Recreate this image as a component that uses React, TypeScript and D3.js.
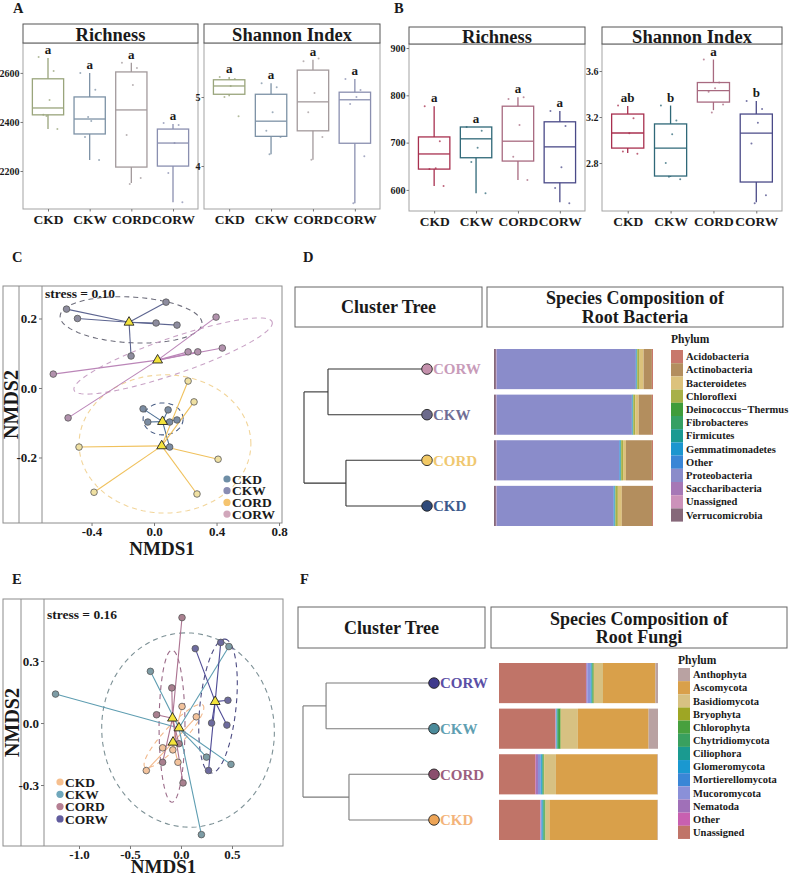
import * as d3 from 'd3';
import { useEffect, useRef } from 'react';

const WIDTH = 794;
const HEIGHT = 878;
const SERIF = '"Liberation Serif", "Times New Roman", serif';

const GROUPS = ['CKD', 'CKW', 'CORD', 'CORW'];
const TREE_ORDER = ['CORW', 'CKW', 'CORD', 'CKD'];

// box summaries, one row per group: [lower whisker, Q1, median, Q3, upper whisker]
const aRichness = [
  [2371, 2429, 2457, 2576, 2661],
  [2245, 2351, 2412, 2502, 2600],
  [2151, 2216, 2449, 2604, 2641],
  [2073, 2220, 2314, 2371, 2392],
];
const aRichnessPts = [
  [2665, 2608, 2490, 2429, 2371, 2424],
  [2600, 2531, 2404, 2339, 2245, 2420],
  [2641, 2620, 2551, 2347, 2171, 2147],
  [2396, 2388, 2314, 2192, 2073],
];
const aShannon = [
  [5.01, 5.04, 5.16, 5.25, 5.29],
  [4.17, 4.43, 4.65, 5.04, 5.2],
  [4.09, 4.51, 4.93, 5.39, 5.54],
  [3.46, 4.33, 4.96, 5.07, 5.26],
];
const aShannonPts = [
  [5.29, 5.26, 5.16, 5.0, 4.72],
  [5.2, 5.14, 4.78, 4.51, 4.42, 4.17],
  [5.52, 5.56, 5.06, 4.78, 4.42, 4.09],
  [5.26, 5.1, 5.0, 4.9, 4.14, 3.46],
];
const bRichness = [
  [608, 644, 676, 712, 777],
  [593, 668, 708, 733, 733],
  [621, 661, 703, 777, 796],
  [574, 615, 691, 744, 767],
];
const bRichnessPts = [
  [777, 703, 646, 644, 608],
  [733, 725, 689, 659, 593],
  [792, 796, 737, 670, 621],
  [767, 735, 648, 604, 572],
];
const bShannon = [
  [2.887, 2.93, 3.061, 3.226, 3.296],
  [2.68, 2.687, 2.93, 3.14, 3.3],
  [3.26, 3.33, 3.43, 3.5, 3.7],
  [2.46, 2.635, 3.06, 3.226, 3.34],
];
const bShannonPts = [
  [3.3, 3.19, 3.06, 2.9, 2.88],
  [3.3, 3.17, 3.05, 2.8, 2.66, 2.68],
  [3.7, 3.5, 3.45, 3.42, 3.31, 3.24],
  [3.34, 3.27, 3.15, 2.97, 2.52, 2.45],
];
const sameLetters = ['a', 'a', 'a', 'a'];
const bShannonLetters = ['ab', 'b', 'a', 'b'];

// NMDS scores (NMDS1, NMDS2), bacteria
const cCKD = [[-0.07, -0.06], [0.09, -0.063], [-0.04, -0.098], [0.147, -0.092], [0.1, -0.098], [0.1, -0.17]];
const cCKW = [[-0.56, 0.227], [-0.49, 0.2], [0.077, 0.247], [0.013, 0.187], [0.147, 0.181], [-0.147, 0.092]];
const cCORD = [[0.218, 0.02], [0.256, -0.04], [-0.48, -0.17], [0.41, -0.205], [-0.384, -0.3], [0.275, -0.305]];
const cCORW = [[0.397, 0.204], [0.218, 0.104], [0.28, 0.104], [0.437, 0.115], [-0.645, 0.04], [-0.55, -0.086]];
// 95% ellipses: centre, then two semi-axes [cx, cy, ax, ay, bx, by]
const cEllipses = [
  [0.058, -0.089, 0.128, 0, 0, 0.046],
  [-0.147, 0.196, 0.454, -0.009, -0.006, 0.066],
  [0.07, -0.161, 0.55, 0, 0, 0.199],
  [0.122, 0.092, 0.634, 0.098, 0.038, -0.049],
];

// NMDS scores, fungi
const eCKD = [[0.01, 0.08], [0.15, 0.03], [-0.18, -0.12], [-0.34, -0.23], [-0.08, -0.13], [-0.03, -0.19]];
const eCKW = [[-1.23, 0.14], [-0.3, 0.25], [0.47, 0.37], [0.49, -0.2], [0.25, -0.165], [0.2, -0.54]];
const eCORD = [[0.01, 0.51], [-0.09, 0.17], [-0.24, 0.04], [-0.18, -0.19], [0.02, -0.29], [-0.02, -0.1]];
const eCORW = [[0.14, 0.36], [0.39, 0.39], [0.46, 0.11], [0.3, 0.0], [0.45, -0.01], [0.27, -0.23]];
const eEllipses = [
  [-0.069, -0.063, 0.284, 0.15, 0.072, -0.033],
  [0.069, -0.034, -0.078, 0.469, 0.843, 0.034],
  [-0.088, -0.015, 0.127, 0, 0, 0.368],
  [0.363, 0.082, 0.069, 0.324, 0.176, -0.01],
];

// cluster heights: root, (CORW,CKW), (CORD,CKD)
const dMerges = [1.0, 0.805, 0.659];
const fMerges = [1.0, 0.824, 0.649];

const bacPhyla = [
  'Acidobacteria', 'Actinobacteria', 'Bacteroidetes', 'Chloroflexi', 'Deinococcus\u2212Thermus',
  'Fibrobacteres', 'Firmicutes', 'Gemmatimonadetes', 'Other', 'Proteobacteria',
  'Saccharibacteria', 'Unassigned', 'Verrucomicrobia',
];
// relative abundance per phylum, rows in TREE_ORDER
const bacCORW = [0.007, 0.052, 0.025, 0.015, 0.001, 0.001, 0.002, 0.002, 0.003, 0.875, 0.003, 0.002, 0.012];
const bacCKW = [0.007, 0.083, 0.022, 0.012, 0.001, 0.001, 0.002, 0.002, 0.003, 0.85, 0.003, 0.002, 0.012];
const bacCORD = [0.007, 0.163, 0.018, 0.012, 0.001, 0.001, 0.003, 0.003, 0.004, 0.77, 0.003, 0.002, 0.012];
const bacCKD = [0.006, 0.19, 0.025, 0.015, 0.001, 0.001, 0.003, 0.003, 0.004, 0.735, 0.003, 0.002, 0.012];

const fungPhyla = [
  'Anthophyta', 'Ascomycota', 'Basidiomycota', 'Bryophyta', 'Chlorophyta', 'Chytridiomycota',
  'Ciliophora', 'Glomeromycota', 'Mortierellomycota', 'Mucoromycota', 'Nematoda', 'Other', 'Unassigned',
];
const fungCORW = [0.016, 0.33, 0.057, 0.002, 0.006, 0.004, 0.003, 0.003, 0.004, 0.02, 0.006, 0.002, 0.547];
const fungCKW = [0.059, 0.445, 0.107, 0.002, 0.01, 0.01, 0.003, 0.002, 0.002, 0.003, 0.001, 0.001, 0.355];
const fungCORD = [0.004, 0.638, 0.074, 0.002, 0.004, 0.004, 0.004, 0.005, 0.004, 0.016, 0.012, 0.004, 0.229];
const fungCKD = [0.003, 0.68, 0.024, 0.002, 0.006, 0.006, 0.004, 0.004, 0.004, 0.004, 0.003, 0.002, 0.258];

// ---- styles ----
const A_COLORS = ['#9aa57c', '#7d92a6', '#a39a9c', '#8a8fb0'];
const B_COLORS = ['#a8304f', '#2f6878', '#a86a80', '#4a4a88'];
const JITTER = [-0.3, 0.18, 0.05, -0.15, 0.3, -0.05];

const C_LINE = ['#4d6f93', '#5d6590', '#f0c15c', '#bb86b8'];
const C_FILL = ['#7b8ca2', '#8d8c9e', '#efe0a2', '#b292ad'];
const C_ELL = ['#4a5e85', '#6e6e7c', '#f2d59a', '#c9a3c6'];
const C_KEY = ['#6e8ea6', '#8a8db2', '#f5c46f', '#d1a7bb'];
const E_LINE = ['#f3b88b', '#5e9db1', '#ab7290', '#4f4b95'];
const E_FILL = ['#f2c29c', '#7d9ca5', '#a9808f', '#6d6b9e'];
const E_ELL = ['#f1b98d', '#7d9196', '#9b6a88', '#4b4a82'];
const E_KEY = ['#f6bf8e', '#6fa7bb', '#b57f93', '#615c9e'];

const BAC_COLORS = [
  '#c8786c', '#b38e5e', '#dcc27c', '#a8b048', '#3f9c3a', '#35a063', '#1b9a92',
  '#1c96cf', '#3a86d6', '#8a8cca', '#a678b6', '#cc92ba', '#86687a',
];
const FUNG_COLORS = [
  '#b9a2a2', '#d9a04a', '#d7c182', '#9ea624', '#48a03e', '#39a05f', '#1a9a90',
  '#1a98d0', '#3a86d6', '#8a90d8', '#a070b8', '#c860b0', '#c07468',
];
const D_TIP = ['#c490ac', '#6c6a8c', '#f2c965', '#2f4a7a'];
const D_TIP_TEXT = ['#c89bb9', '#6f6d95', '#f0c870', '#3c5a8c'];
const F_TIP = ['#3f3a8c', '#4b8b9b', '#8a4e6e', '#eda456'];
const F_TIP_TEXT = ['#5b4fa6', '#5f9fb2', '#9c5f7f', '#f3b47a'];

type G = d3.Selection<SVGGElement, unknown, null, undefined>;

function styleAxis(a: G, size: number, color = '#777') {
  a.attr('font-family', SERIF).attr('font-size', size).attr('font-weight', 'bold');
  a.select('.domain').remove();
  a.selectAll('line').attr('stroke', color);
  a.selectAll('text').attr('fill', '#1a1a1a');
}

interface BoxCfg {
  left: number;
  right: number;
  stripTop: number;
  top: number;
  bottom: number;
  title: string;
  domain: [number, number];
  ticks: number[];
  fmt: (v: number) => string;
  stats: number[][];
  pts: number[][];
  letters: string[];
  colors: string[];
}

function drawBoxPanel(g: G, p: BoxCfg) {
  const x = d3.scalePoint<string>().domain(GROUPS).range([p.left, p.right]).padding(0.6);
  const y = d3.scaleLinear().domain(p.domain).range([p.bottom, p.top]);
  const bw = x.step() * 0.75;

  g.append('rect')
    .attr('x', p.left).attr('y', p.top)
    .attr('width', p.right - p.left).attr('height', p.bottom - p.top)
    .attr('fill', 'none').attr('stroke', '#a3a3a3');
  g.append('rect')
    .attr('x', p.left).attr('y', p.stripTop)
    .attr('width', p.right - p.left).attr('height', p.top - p.stripTop)
    .attr('fill', '#fff').attr('stroke', '#555');
  g.append('text')
    .attr('x', (p.left + p.right) / 2).attr('y', (p.stripTop + p.top) / 2 + 1)
    .attr('dy', '0.35em').attr('text-anchor', 'middle').attr('font-size', 18.5)
    .text(p.title);

  g.append('g')
    .attr('transform', `translate(${p.left},0)`)
    .call(d3.axisLeft(y).tickValues(p.ticks).tickSize(2.5).tickPadding(1).tickFormat((v) => p.fmt(+v)))
    .call((a) => styleAxis(a, 10));
  g.append('g')
    .attr('transform', `translate(0,${p.bottom})`)
    .call(d3.axisBottom(x).tickSize(2.5).tickPadding(3))
    .call((a) => styleAxis(a, 13.5));

  GROUPS.forEach((grp, i) => {
    const [lo, q1, med, q3, hi] = p.stats[i];
    const cx = x(grp) ?? 0;
    const c = p.colors[i];
    const box = g.append('g').attr('stroke', c).attr('stroke-width', 1.3);
    box.append('line').attr('x1', cx).attr('x2', cx).attr('y1', y(hi)).attr('y2', y(q3));
    box.append('line').attr('x1', cx).attr('x2', cx).attr('y1', y(q1)).attr('y2', y(lo));
    box.append('rect')
      .attr('x', cx - bw / 2).attr('y', y(q3))
      .attr('width', bw).attr('height', y(q1) - y(q3))
      .attr('fill', 'none');
    box.append('line').attr('x1', cx - bw / 2).attr('x2', cx + bw / 2).attr('y1', y(med)).attr('y2', y(med));
    g.append('g')
      .selectAll('circle')
      .data(p.pts[i])
      .join('circle')
      .attr('cx', (_, j) => cx + JITTER[j] * bw)
      .attr('cy', (v) => y(v))
      .attr('r', 1)
      .attr('fill', c)
      .attr('opacity', 0.75);
    g.append('text')
      .attr('x', cx).attr('y', y(hi) - 4)
      .attr('text-anchor', 'middle').attr('font-size', 13)
      .text(p.letters[i]);
  });
}

interface NmdsCfg {
  frame: [number, number, number, number];
  divider: number;
  left: number;
  xDomain: [number, number];
  yDomain: [number, number];
  xTicks: number[];
  yTicks: number[];
  points: number[][][];
  ellipses: number[][];
  line: string[];
  fill: string[];
  ell: string[];
  key: string[];
  stress: string;
  stressY: number;
  legendX: number;
  legendY: number;
  legendStep: number;
  titleY: number;
}

function drawNmds(g: G, p: NmdsCfg) {
  const [fx0, fy0, fx1, fy1] = p.frame;
  const x = d3.scaleLinear().domain(p.xDomain).range([p.left, fx1]);
  const y = d3.scaleLinear().domain(p.yDomain).range([fy1, fy0]);
  const fmt = (v: number) => v.toFixed(1);

  g.append('rect')
    .attr('x', fx0).attr('y', fy0).attr('width', fx1 - fx0).attr('height', fy1 - fy0)
    .attr('fill', 'none').attr('stroke', '#8c8c8c');
  [p.divider, p.left].forEach((lx) =>
    g.append('line').attr('x1', lx).attr('x2', lx).attr('y1', fy0).attr('y2', fy1).attr('stroke', '#8c8c8c'),
  );

  g.append('g')
    .attr('transform', `translate(${p.left},0)`)
    .call(d3.axisLeft(y).tickValues(p.yTicks).tickSize(3).tickPadding(2).tickFormat((v) => fmt(+v)))
    .call((a) => styleAxis(a, 13));
  g.append('g')
    .attr('transform', `translate(0,${fy1})`)
    .call(d3.axisBottom(x).tickValues(p.xTicks).tickSize(3).tickPadding(1).tickFormat((v) => fmt(+v)))
    .call((a) => styleAxis(a, 13));

  g.append('text')
    .attr('transform', `translate(${(fx0 + p.divider) / 2},${(fy0 + fy1) / 2}) rotate(-90)`)
    .attr('dy', '0.35em').attr('text-anchor', 'middle').attr('font-size', 20)
    .text('NMDS2');
  g.append('text')
    .attr('x', (p.left + fx1) / 2).attr('y', p.titleY)
    .attr('text-anchor', 'middle').attr('font-size', 19)
    .text('NMDS1');
  g.append('text')
    .attr('x', p.left + 3).attr('y', p.stressY)
    .attr('font-size', 13.5)
    .text(p.stress);

  const ts = d3.range(0, 2 * Math.PI, Math.PI / 48);
  p.ellipses.forEach((e, i) => {
    const path = d3
      .line<number>()
      .x((t) => x(e[0] + e[2] * Math.cos(t) + e[4] * Math.sin(t)))
      .y((t) => y(e[1] + e[3] * Math.cos(t) + e[5] * Math.sin(t)))
      .curve(d3.curveLinearClosed);
    g.append('path')
      .attr('d', path(ts))
      .attr('fill', 'none').attr('stroke', p.ell[i])
      .attr('stroke-width', 1.1).attr('stroke-dasharray', '5,4');
  });

  const centroids = p.points.map((pts) => [
    d3.mean(pts, (d) => d[0]) ?? 0,
    d3.mean(pts, (d) => d[1]) ?? 0,
  ]);

  p.points.forEach((pts, i) => {
    const [mx, my] = centroids[i];
    g.append('g')
      .selectAll('line')
      .data(pts)
      .join('line')
      .attr('x1', x(mx)).attr('y1', y(my))
      .attr('x2', (d) => x(d[0])).attr('y2', (d) => y(d[1]))
      .attr('stroke', p.line[i]).attr('stroke-width', 1.1);
  });
  p.points.forEach((pts, i) => {
    g.append('g')
      .selectAll('circle')
      .data(pts)
      .join('circle')
      .attr('cx', (d) => x(d[0])).attr('cy', (d) => y(d[1]))
      .attr('r', 3.3)
      .attr('fill', p.fill[i]).attr('stroke', '#585858').attr('stroke-width', 0.8);
  });
  const tri = d3.symbol(d3.symbolTriangle, 42);
  g.append('g')
    .selectAll('path')
    .data(centroids)
    .join('path')
    .attr('d', tri)
    .attr('transform', (d) => `translate(${x(d[0])},${y(d[1])})`)
    .attr('fill', '#f3e33c').attr('stroke', '#222').attr('stroke-width', 0.9);

  const legend = g.append('g').attr('font-size', 13.5);
  GROUPS.forEach((grp, i) => {
    const ly = p.legendY + i * p.legendStep;
    legend.append('circle').attr('cx', p.legendX).attr('cy', ly).attr('r', 3.6).attr('fill', p.key[i]);
    legend.append('text').attr('x', p.legendX + 5).attr('y', ly).attr('dy', '0.35em').text(grp);
  });
}

interface TreeCfg {
  headTop: number;
  headBottom: number;
  treeHead: [number, number];
  barHead: [number, number];
  title: string[];
  merges: number[];
  leafX: number;
  rootX: number;
  lineColor: string;
  tipFill: string[];
  tipText: string[];
  barX: [number, number];
  barY: [number, number];
  phyla: string[];
  colors: string[];
  rows: number[][];
  legendX: number;
  legendTitleY: number;
  legendTop: number;
  legendStep: number;
  labelX: number;
}

function drawTreePanel(g: G, p: TreeCfg) {
  const hh = p.headBottom - p.headTop;
  const heads: [[number, number], string[]][] = [
    [p.treeHead, ['Cluster Tree']],
    [p.barHead, p.title],
  ];
  heads.forEach(([[hx0, hx1], lines]) => {
    g.append('rect')
      .attr('x', hx0).attr('y', p.headTop).attr('width', hx1 - hx0).attr('height', hh)
      .attr('fill', '#fff').attr('stroke', '#666');
    lines.forEach((line, i) => {
      g.append('text')
        .attr('x', (hx0 + hx1) / 2)
        .attr('y', p.headTop + hh / 2 + (i - (lines.length - 1) / 2) * 18.5)
        .attr('dy', '0.35em').attr('text-anchor', 'middle').attr('font-size', 18)
        .text(line);
    });
  });

  const band = d3.scaleBand<string>().domain(TREE_ORDER).range(p.barY).paddingInner(0.12);
  const bx = d3.scaleLinear().domain([0, 1]).range(p.barX);
  const hx = d3.scaleLinear().domain([0, 1]).range([p.leafX, p.rootX]);

  // dendrogram
  const treeData = {
    h: p.merges[0],
    children: [
      { h: p.merges[1], children: TREE_ORDER.slice(0, 2).map((name) => ({ name, h: 0 })) },
      { h: p.merges[2], children: TREE_ORDER.slice(2).map((name) => ({ name, h: 0 })) },
    ],
  };
  type TNode = { name?: string; h: number; children?: TNode[] };
  const root = d3.hierarchy<TNode>(treeData);
  const ypos = new Map<d3.HierarchyNode<TNode>, number>();
  root.eachAfter((n) => {
    if (n.children) ypos.set(n, d3.mean(n.children, (c) => ypos.get(c) ?? 0) ?? 0);
    else ypos.set(n, (band(n.data.name ?? '') ?? 0) + band.bandwidth() / 2);
  });
  const treeG = g.append('g').attr('stroke', p.lineColor).attr('stroke-width', 1.1).attr('fill', 'none');
  root.each((n) => {
    if (!n.children) return;
    const x0 = hx(n.data.h);
    const ys = n.children.map((c) => ypos.get(c) ?? 0);
    treeG.append('line').attr('x1', x0).attr('x2', x0).attr('y1', ys[0]).attr('y2', ys[1]);
    n.children.forEach((c, k) => {
      treeG.append('line').attr('x1', x0).attr('x2', hx(c.data.h)).attr('y1', ys[k]).attr('y2', ys[k]);
    });
  });
  root.leaves().forEach((leaf) => {
    const i = TREE_ORDER.indexOf(leaf.data.name ?? '');
    const ly = ypos.get(leaf) ?? 0;
    g.append('circle')
      .attr('cx', hx(0)).attr('cy', ly).attr('r', 5.3)
      .attr('fill', p.tipFill[i]).attr('stroke', '#222').attr('stroke-width', 0.9);
    g.append('text')
      .attr('x', hx(0) + 6).attr('y', ly).attr('dy', '0.35em')
      .attr('font-size', 15).attr('fill', p.tipText[i])
      .text(leaf.data.name ?? '');
  });

  // stacked composition bars, left-most key = last phylum
  const keys = [...p.phyla].reverse();
  const table = TREE_ORDER.map((grp, r) => {
    const row: Record<string, number | string> = { group: grp };
    p.phyla.forEach((ph, k) => (row[ph] = p.rows[r][k]));
    return row;
  });
  const stack = d3
    .stack<Record<string, number | string>>()
    .keys(keys)
    .value((d, key) => +d[key])
    .offset(d3.stackOffsetExpand);
  const series = stack(table);
  g.append('g')
    .selectAll('g')
    .data(series)
    .join('g')
    .attr('fill', (s) => p.colors[p.phyla.indexOf(s.key)])
    .selectAll('rect')
    .data((s) => s)
    .join('rect')
    .attr('x', (d) => bx(d[0]))
    .attr('width', (d) => Math.max(0, bx(d[1]) - bx(d[0])))
    .attr('y', (d) => band(String(d.data.group)) ?? 0)
    .attr('height', band.bandwidth());

  // legend
  const lg = g.append('g');
  lg.append('text').attr('x', p.legendX).attr('y', p.legendTitleY).attr('font-size', 11.5).text('Phylum');
  p.phyla.forEach((ph, i) => {
    const y0 = p.legendTop + i * p.legendStep;
    lg.append('rect')
      .attr('x', p.legendX).attr('y', y0).attr('width', 12).attr('height', p.legendStep)
      .attr('fill', p.colors[i]);
    lg.append('text')
      .attr('x', p.labelX).attr('y', y0 + p.legendStep / 2).attr('dy', '0.35em')
      .attr('font-size', 10.5).text(ph);
  });
}

export default function App() {
  const svgRef = useRef<SVGSVGElement>(null);

  useEffect(() => {
    const el = svgRef.current;
    if (!el) return;
    const svg = d3.select(el);
    svg.selectAll('*').remove();
    const root = svg
      .append('g')
      .attr('font-family', SERIF)
      .attr('font-weight', 'bold')
      .attr('fill', '#1a1a1a') as unknown as G;

    const tags: [string, number, number][] = [
      ['A', 13, 13], ['B', 394, 13], ['C', 12, 262], ['D', 303, 262], ['E', 12, 584], ['F', 300, 584],
    ];
    tags.forEach(([t, tx, ty]) =>
      root.append('text').attr('x', tx).attr('y', ty).attr('font-size', 14.5).text(t),
    );

    drawBoxPanel(root.append('g'), {
      left: 23, right: 198, stripTop: 24, top: 43, bottom: 209,
      title: 'Richness', domain: [2045, 2722], ticks: [2200, 2400, 2600], fmt: (v) => String(v),
      stats: aRichness, pts: aRichnessPts, letters: sameLetters, colors: A_COLORS,
    });
    drawBoxPanel(root.append('g'), {
      left: 204, right: 380, stripTop: 24, top: 43, bottom: 209,
      title: 'Shannon Index', domain: [3.377, 5.783], ticks: [4, 5], fmt: (v) => String(v),
      stats: aShannon, pts: aShannonPts, letters: sameLetters, colors: A_COLORS,
    });
    drawBoxPanel(root.append('g'), {
      left: 409, right: 585, stripTop: 27, top: 44, bottom: 211,
      title: 'Richness', domain: [555.4, 908.5], ticks: [600, 700, 800, 900], fmt: (v) => String(v),
      stats: bRichness, pts: bRichnessPts, letters: sameLetters, colors: B_COLORS,
    });
    drawBoxPanel(root.append('g'), {
      left: 602, right: 782, stripTop: 27, top: 44, bottom: 211,
      title: 'Shannon Index', domain: [2.383, 3.835], ticks: [2.8, 3.2, 3.6], fmt: (v) => v.toFixed(1),
      stats: bShannon, pts: bShannonPts, letters: bShannonLetters, colors: B_COLORS,
    });

    drawNmds(root.append('g'), {
      frame: [3, 286, 282, 523], divider: 19, left: 42,
      xDomain: [-0.717, 0.819], yDomain: [-0.3885, 0.2935],
      xTicks: [-0.4, 0, 0.4, 0.8], yTicks: [-0.2, 0, 0.2],
      points: [cCKD, cCKW, cCORD, cCORW], ellipses: cEllipses,
      line: C_LINE, fill: C_FILL, ell: C_ELL, key: C_KEY,
      stress: 'stress = 0.10', stressY: 298,
      legendX: 227, legendY: 479, legendStep: 11.7, titleY: 555,
    });
    drawNmds(root.append('g'), {
      frame: [3, 599, 283, 846], divider: 21, left: 44,
      xDomain: [-1.343, 1.0], yDomain: [-0.595, 0.6],
      xTicks: [-1, -0.5, 0, 0.5], yTicks: [-0.3, 0, 0.3],
      points: [eCKD, eCKW, eCORD, eCORW], ellipses: eEllipses,
      line: E_LINE, fill: E_FILL, ell: E_ELL, key: E_KEY,
      stress: 'stress = 0.16', stressY: 619,
      legendX: 60, legendY: 782, legendStep: 12.3, titleY: 873,
    });

    drawTreePanel(root.append('g'), {
      headTop: 287, headBottom: 327, treeHead: [295, 482], barHead: [487, 783],
      title: ['Species Composition of', 'Root Bacteria'],
      merges: dMerges, leafX: 427, rootX: 304, lineColor: '#333',
      tipFill: D_TIP, tipText: D_TIP_TEXT,
      barX: [494, 653], barY: [349, 526],
      phyla: bacPhyla, colors: BAC_COLORS, rows: [bacCORW, bacCKW, bacCORD, bacCKD],
      legendX: 671, legendTitleY: 343, legendTop: 350, legendStep: 13.2, labelX: 686,
    });
    drawTreePanel(root.append('g'), {
      headTop: 607, headBottom: 648, treeHead: [298, 485], barHead: [491, 787],
      title: ['Species Composition of', 'Root Fungi'],
      merges: fMerges, leafX: 434, rootX: 303, lineColor: '#7a7a7a',
      tipFill: F_TIP, tipText: F_TIP_TEXT,
      barX: [499, 658], barY: [663, 840],
      phyla: fungPhyla, colors: FUNG_COLORS, rows: [fungCORW, fungCKW, fungCORD, fungCKD],
      legendX: 678, legendTitleY: 664, legendTop: 668, legendStep: 13.15, labelX: 693,
    });
  }, []);

  return (
    <svg
      ref={svgRef}
      width={WIDTH}
      height={HEIGHT}
      style={{ position: 'absolute', left: 0, top: 0, background: '#fff' }}
    />
  );
}
